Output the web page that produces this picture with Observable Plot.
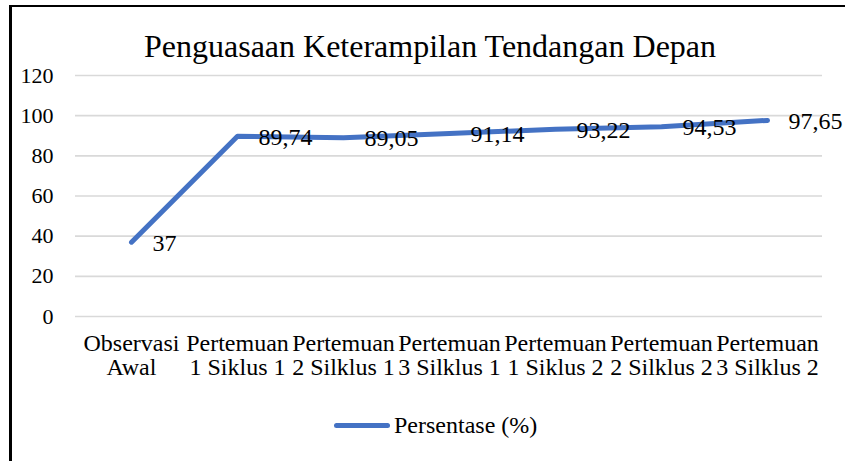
<!DOCTYPE html>
<html>
<head>
<meta charset="utf-8">
<script src="https://cdn.jsdelivr.net/npm/d3@7"></script>
<script src="https://cdn.jsdelivr.net/npm/@observablehq/plot@0.6"></script>
<style>
  html, body { margin: 0; padding: 0; background: #fff; }
  #wrap { position: relative; width: 845px; height: 461px; overflow: hidden; font-family: "Liberation Serif", "Times New Roman", serif; color: #000; }
  #chart { position: absolute; left: 0; top: 0; }
  #frame { position: absolute; left: 9px; top: 5px; width: 900px; height: 500px; border-left: 3px solid #000; border-top: 2.5px solid #000; }
  #title { position: absolute; left: 0; width: 860px; top: 28px; text-align: center; font-size: 32px; line-height: 36px; white-space: nowrap; }
  #legend { position: absolute; left: 334px; top: 411px; height: 28px; display: flex; align-items: center; font-size: 24px; white-space: nowrap; }
  #legend .sw { width: 56px; height: 5px; border-radius: 3px; background: #4472C4; margin-right: 4px; }
</style>
</head>
<body>
<div id="wrap">
  <div id="chart"></div>
  <div id="frame"></div>
  <div id="title">Penguasaan Keterampilan Tendangan Depan</div>
  <div id="legend"><div class="sw"></div><span>Persentase (%)</span></div>
</div>
<script>
const categories = [
  "Observasi\nAwal",
  "Pertemuan\n1 Siklus 1",
  "Pertemuan\n2 Silklus 1",
  "Pertemuan\n3 Silklus 1",
  "Pertemuan\n1 Siklus 2",
  "Pertemuan\n2 Silklus 2",
  "Pertemuan\n3 Silklus 2"
];
const persentase = [37, 89.74, 89.05, 91.14, 93.22, 94.53, 97.65];
const yTicks = [0, 20, 40, 60, 80, 100, 120];
const seriesName = "Persentase (%)";

const data = categories.map((c, i) => ({ cat: c, value: persentase[i] }));
const fmt = v => String(v).replace(".", ",");

const chart = Plot.plot({
  width: 845,
  height: 461,
  marginLeft: 75,
  marginRight: 23,
  marginTop: 75,
  marginBottom: 145,
  style: { fontFamily: "Liberation Serif, Times New Roman, serif", fontSize: "22px", color: "#000", background: "none", overflow: "visible" },
  x: { type: "point", domain: categories, padding: 0.5 },
  y: { domain: [0, 120] },
  marks: [
    Plot.ruleY(yTicks, { stroke: "#d9d9d9", strokeWidth: 1.6 }),
    Plot.axisY({ ticks: yTicks, tickSize: 0, tickPadding: 22, fontSize: 22, label: null }),
    Plot.axisX({ tickSize: 0, tickPadding: 17, fontSize: 24, lineHeight: 1.0, label: null }),
    Plot.line(data, { x: "cat", y: "value", stroke: "#4472C4", strokeWidth: 5, strokeLinecap: "round", strokeLinejoin: "round" }),
    Plot.text(data, { x: "cat", y: "value", text: d => fmt(d.value), textAnchor: "start", dx: 21, dy: 1, fontSize: 24, lineAnchor: "middle", fill: "#000" })
  ]
});
document.getElementById("chart").appendChild(chart);
</script>
</body>
</html>
